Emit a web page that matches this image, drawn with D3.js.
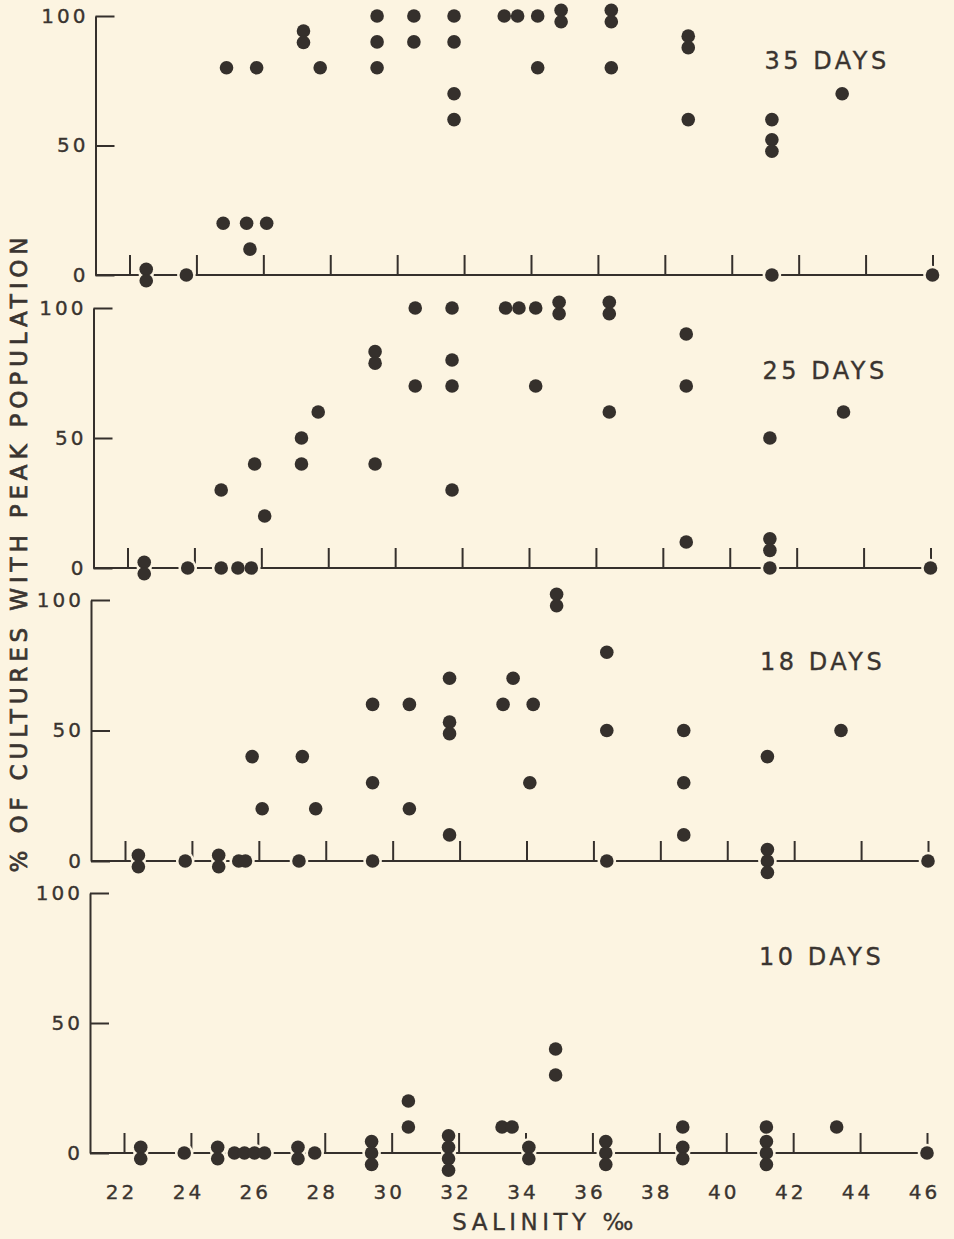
<!DOCTYPE html>
<html>
<head>
<meta charset="utf-8">
<script src="https://cdn.jsdelivr.net/npm/d3@7"></script>
<style>
  body { margin: 0; background: #fcf4e1; }
  svg { display: block; }
  text { font-family: "DejaVu Sans", sans-serif; fill: #3a3430; stroke: #3a3430; stroke-width: 0.35px; }
</style>
</head>
<body>
<svg id="chart"></svg>
<script>
// salinity (per mille), % of cultures with peak population
const days35 = [
  [22.5, 0], [22.5, 0], [23.7, 0],
  [24.8, 20], [25.5, 20], [26.1, 20], [25.6, 10],
  [24.9, 80], [25.8, 80], [27.7, 80],
  [27.2, 92], [27.2, 92],
  [29.4, 100], [29.4, 90], [29.4, 80],
  [30.5, 100], [30.5, 90],
  [31.7, 100], [31.7, 90], [31.7, 70], [31.7, 60],
  [33.2, 100], [33.6, 100], [34.2, 100], [34.2, 80],
  [34.9, 100], [34.9, 100],
  [36.4, 100], [36.4, 100], [36.4, 80],
  [38.7, 90], [38.7, 90], [38.7, 60],
  [41.2, 60], [41.2, 50], [41.2, 50], [41.2, 0],
  [43.3, 70],
  [46, 0]
]

const days25 = [
  [22.5, 0], [22.5, 0], [23.8, 0], [24.8, 0], [25.3, 0], [25.7, 0],
  [24.8, 30], [25.8, 40], [26.1, 20],
  [27.2, 50], [27.2, 40], [27.7, 60],
  [29.4, 81], [29.4, 81], [29.4, 40],
  [30.6, 100], [30.6, 70],
  [31.7, 100], [31.7, 80], [31.7, 70], [31.7, 30],
  [33.3, 100], [33.7, 100], [34.2, 100], [34.2, 70],
  [34.9, 100], [34.9, 100],
  [36.4, 100], [36.4, 100], [36.4, 60],
  [38.7, 90], [38.7, 70], [38.7, 10],
  [41.2, 50], [41.2, 9], [41.2, 9], [41.2, 0],
  [43.4, 60],
  [46, 0]
]

const days18 = [
  [22.4, 0], [22.4, 0], [23.8, 0], [24.8, 0], [24.8, 0], [25.4, 0], [25.6, 0], [27.2, 0], [29.4, 0],
  [25.8, 40], [26.1, 20], [27.3, 40], [27.7, 20],
  [29.4, 60], [29.4, 30],
  [30.5, 60], [30.5, 20],
  [31.7, 70], [31.7, 51], [31.7, 51], [31.7, 10],
  [33.3, 60], [33.6, 70], [34.2, 60], [34.1, 30],
  [34.9, 100], [34.9, 100],
  [36.4, 80], [36.4, 50], [36.4, 0],
  [38.7, 50], [38.7, 30], [38.7, 10],
  [41.2, 40], [41.2, 0], [41.2, 0], [41.2, 0],
  [43.4, 50],
  [46, 0]
]

const days10 = [
  [22.5, 0], [22.5, 0], [23.8, 0], [24.8, 0], [24.8, 0],
  [25.3, 0], [25.6, 0], [25.9, 0], [26.2, 0],
  [27.2, 0], [27.2, 0], [27.7, 0],
  [29.4, 0], [29.4, 0], [29.4, 0],
  [30.5, 20], [30.5, 10],
  [31.7, 0], [31.7, 0], [31.7, 0], [31.7, 0],
  [33.3, 10], [33.6, 10],
  [34.1, 0], [34.1, 0],
  [34.9, 40], [34.9, 30],
  [36.4, 0], [36.4, 0], [36.4, 0],
  [38.7, 10], [38.7, 0], [38.7, 0],
  [41.2, 10], [41.2, 0], [41.2, 0], [41.2, 0],
  [43.3, 10],
  [46, 0]
]

const panelLabels = ["35 DAYS", "25 DAYS", "18 DAYS", "10 DAYS"]
const salinityTicks = [22, 24, 26, 28, 30, 32, 34, 36, 38, 40, 42, 44, 46]
const percentTicks = [0, 50, 100]

const width = 954
const height = 1239
const ink = "#35302c"
const paper = "#fcf4e1"

// the scan is slightly skewed, so each panel sits a little to the side
const panelTop = [16, 308, 600, 893]
const panelBottom = [275, 568, 861, 1153]
const panelShift = [2.5, 0.5, -2, -3]
const labelDy = [44, 62, 61, 63]
const axisX = 93
const stackGap = 11.5
const dotR = 6.8

const svg = d3.select("#chart")
    .attr("width", width)
    .attr("height", height)
    .style("background", paper)

const x = d3.scaleLinear().domain([22, 46]).range([127, 930])

const series = [days35, days25, days18, days10]

series.forEach((points, i) => {
    const y = d3.scaleLinear().domain([0, 100]).range([panelBottom[i], panelTop[i]])
    const g = svg.append("g").attr("transform", `translate(${panelShift[i]},0)`)

    // left axis, ticks point inward
    const yAxis = g.append("g")
        .attr("transform", `translate(${axisX},0)`)
        .call(d3.axisLeft(y).tickValues(percentTicks).tickSizeInner(-19).tickSizeOuter(0).tickPadding(7))
    yAxis.select(".domain").attr("stroke", ink).attr("stroke-width", 2)
    yAxis.selectAll(".tick line").attr("stroke", ink).attr("stroke-width", 2)
    yAxis.selectAll(".tick text")
        .style("font-size", "20px")
        .style("letter-spacing", "3px")
        .attr("fill", ink)

    // zero line
    g.append("line")
        .attr("x1", axisX)
        .attr("x2", x(46))
        .attr("y1", y(0))
        .attr("y2", y(0))
        .attr("stroke", ink)
        .attr("stroke-width", 2)

    const xAxis = g.append("g")
        .attr("transform", `translate(0,${y(0)})`)
        .call(d3.axisBottom(x)
            .tickValues(salinityTicks)
            .tickSizeInner(-20)
            .tickSizeOuter(0)
            .tickPadding(32)
            .tickFormat(i === series.length - 1 ? d3.format("d") : ""))
    xAxis.select(".domain").remove()
    xAxis.selectAll(".tick line").attr("stroke", ink).attr("stroke-width", 2)
    xAxis.selectAll(".tick text")
        .attr("dx", -3)
        .style("font-size", "20px")
        .style("letter-spacing", "3px")
        .attr("fill", ink)

    // equal readings are stacked on top of each other
    const groups = d3.group(points, d => d[0] + "|" + d[1])
    const dots = []
    groups.forEach(list => {
        list.forEach((d, k) => dots.push({s: d[0], v: d[1], off: (k - (list.length - 1) / 2) * stackGap}))
    })

    // paper-coloured halo cuts the lines round each dot
    g.append("g")
        .selectAll("circle")
        .data(dots)
        .join("circle")
        .attr("cx", d => x(d.s))
        .attr("cy", d => y(d.v) + d.off)
        .attr("r", dotR + 2.5)
        .attr("fill", paper)

    g.append("g")
        .selectAll("circle")
        .data(dots)
        .join("circle")
        .attr("cx", d => x(d.s))
        .attr("cy", d => y(d.v) + d.off)
        .attr("r", dotR)
        .attr("fill", ink)

    g.append("text")
        .attr("x", 762)
        .attr("y", panelTop[i] + labelDy[i])
        .attr("dy", "0.36em")
        .style("font-size", "24px")
        .style("letter-spacing", "3.5px")
        .text(panelLabels[i])
})

svg.append("text")
    .attr("transform", `translate(19,${(235 + 875) / 2}) rotate(-90)`)
    .attr("text-anchor", "middle")
    .attr("dy", "0.36em")
    .attr("textLength", 635)
    .attr("lengthAdjust", "spacing")
    .style("font-size", "23px")
    .style("stroke-width", "0.7px")
    .text("% OF CULTURES WITH PEAK POPULATION")

svg.append("text")
    .attr("x", 545)
    .attr("y", 1222)
    .attr("text-anchor", "middle")
    .attr("dy", "0.36em")
    .style("font-size", "23px")
    .style("letter-spacing", "4.5px")
    .text("SALINITY ‰")
</script>
</body>
</html>
